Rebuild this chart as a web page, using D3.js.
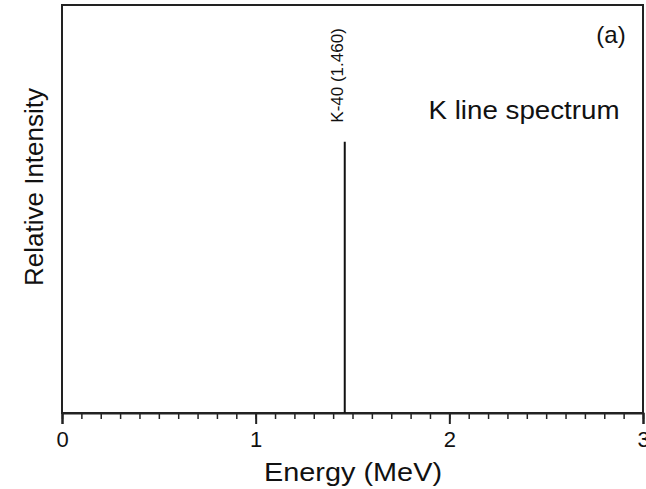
<!DOCTYPE html>
<html><head><meta charset="utf-8">
<script src="https://cdn.jsdelivr.net/npm/d3@7"></script>
<style>body{margin:0;background:#fff}svg{display:block}text{font-family:"Liberation Sans",Arial,sans-serif;fill:#111}</style>
</head><body>
<svg id="c" width="646" height="489"></svg>
<script>
const lineEnergies = [1.460];
const lineIntensities = [0.665];
const lineLabels = ["K-40 (1.460)"];
const xTicks = [0, 1, 2, 3];
const xMinorTicks = d3.range(0, 3.0001, 0.1).map(v => +v.toFixed(2));

const svg = d3.select("#c");
const L = 62, R = 643, T = 5, B = 413;
const x = d3.scaleLinear().domain([0, 3]).range([L, R]);
const y = d3.scaleLinear().domain([0, 1]).range([B, T]);

// frame
svg.append("rect").attr("x", L).attr("y", T).attr("width", R - L).attr("height", B - T)
  .attr("fill", "none").attr("stroke", "#222").attr("stroke-width", 2);

// minor ticks
svg.append("g").attr("transform", `translate(0,${B})`)
  .call(d3.axisBottom(x).tickValues(xMinorTicks).tickSize(6).tickFormat(""))
  .call(g => g.select(".domain").remove())
  .call(g => g.selectAll("line").attr("stroke", "#222").attr("stroke-width", 1.5));
// major ticks
svg.append("g").attr("transform", `translate(0,${B})`)
  .call(d3.axisBottom(x).tickValues(xTicks).tickSize(11).tickPadding(7).tickFormat(d3.format("d")))
  .call(g => g.select(".domain").attr("stroke", "#222").attr("stroke-width", 2))
  .call(g => g.selectAll("line").attr("stroke", "#222").attr("stroke-width", 2))
  .call(g => g.selectAll("text").style("font-size", "22px").style("font-family", '"Liberation Sans",Arial,sans-serif').attr("fill", "#111"));

// lines
svg.selectAll(".spec").data(lineEnergies).join("line").attr("class", "spec")
  .attr("x1", d => x(d)).attr("x2", d => x(d))
  .attr("y1", y(0)).attr("y2", (d, i) => y(lineIntensities[i]))
  .attr("stroke", "#111").attr("stroke-width", 2);

svg.selectAll(".lab").data(lineEnergies).join("text").attr("class", "lab")
  .attr("transform", (d, i) => `translate(${x(d) - 2},${y(lineIntensities[i]) - 19}) rotate(-90)`)
  .style("font-size", "17px").text((d, i) => lineLabels[i]);

// annotations
svg.append("text").attr("x", 611).attr("y", 43).attr("text-anchor", "middle")
  .style("font-size", "24px").text("(a)");
svg.append("text").attr("x", 524).attr("y", 119).attr("text-anchor", "middle")
  .style("font-size", "26px").attr("textLength", 191).attr("lengthAdjust", "spacingAndGlyphs")
  .text("K line spectrum");

// axis titles
svg.append("text").attr("x", 353).attr("y", 481).attr("text-anchor", "middle")
  .style("font-size", "26px").attr("textLength", 178).attr("lengthAdjust", "spacingAndGlyphs")
  .text("Energy (MeV)");
svg.append("text").attr("transform", "translate(43,187) rotate(-90)").attr("text-anchor", "middle")
  .style("font-size", "26px").text("Relative Intensity");
</script>
</body></html>
